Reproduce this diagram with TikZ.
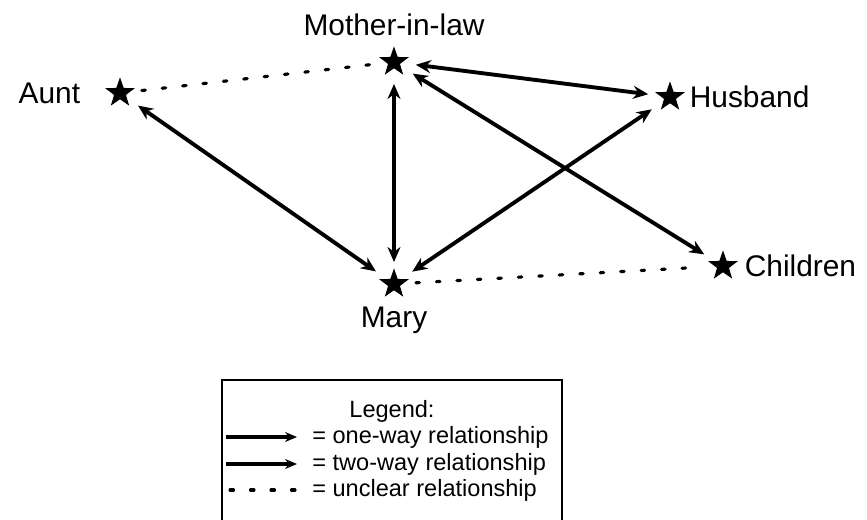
\documentclass[tikz,border=0pt]{standalone}
\usepackage{fontspec}
\setmainfont{Liberation Sans}
\usetikzlibrary{positioning,shapes.geometric,arrows.meta}

\tikzset{
  person/.style={star, star points=5, star point ratio=2.5, fill=black, draw=black,
    line width=0.6pt, minimum size=0.56cm, inner sep=0pt},
  lbl/.style={font=\fontsize{17}{20}\selectfont, inner sep=0pt},
  legtxt/.style={font=\fontsize{13.4}{16}\selectfont, inner sep=0pt},
  twoway/.style={line width=2.2pt,
    {Stealth[length=0.3cm,width=0.26cm]}-{Stealth[length=0.3cm,width=0.26cm]},
    shorten <=0.44cm, shorten >=0.44cm},
  unclear/.style={line width=1.8pt, line cap=round, dash pattern=on 0.07cm off 0.34cm,
    shorten <=0.44cm, shorten >=0.44cm},
  sample/.style={line width=1.8pt, -{Stealth[length=0.24cm,width=0.2cm]}},
}

\begin{document}
\begin{tikzpicture}
    \useasboundingbox (0,0) rectangle (17.34,10.38);

    % Family members
    \node[person] (aunt) at (2.40,8.52) {};
    \node[person] (inlaw) at (7.88,9.14) {};
    \node[person] (husband) at (13.40,8.44) {};
    \node[person] (children) at (14.46,5.06) {};
    \node[person] (mary) at (7.88,4.70) {};

    % Names
    \node[lbl, left=0.62cm of aunt] (auntlbl) {Aunt};
    \node[lbl, above=0.2cm of inlaw] (inlawlbl) {Mother-in-law};
    \node[lbl, right=0.22cm of husband] (husbandlbl) {Husband};
    \node[lbl, right=0.26cm of children] (childrenlbl) {Children};
    \node[lbl, below=0.32cm of mary] (marylbl) {Mary};

    % Relationships
    \draw[unclear] (aunt.center) -- (inlaw.center);
    \draw[unclear] (mary.center) -- (children.center);
    \draw[twoway] (aunt.center) -- (mary.center);
    \draw[twoway] (inlaw.center) -- (mary.center);
    \draw[twoway] (inlaw.center) -- (husband.center);
    \draw[twoway] (inlaw.center) -- (children.center);
    \draw[twoway] (husband.center) -- (mary.center);

    % Legend
    \draw[line width=1.4pt] (4.44,-0.5) -- (4.44,2.78) -- (11.24,2.78) -- (11.24,-0.5);
    \node[legtxt] (legtitle) at (7.84,2.16) {Legend:};
    \coordinate (oneA) at (4.52,1.64);
    \coordinate (oneB) at (5.94,1.64);
    \coordinate (twoA) at (4.52,1.10);
    \coordinate (twoB) at (5.94,1.10);
    \coordinate (uncA) at (4.60,0.58);
    \coordinate (uncB) at (5.94,0.58);
    \draw[sample] (oneA) -- (oneB);
    \draw[sample] (twoA) -- (twoB);
    \draw[line width=1.8pt, line cap=round, dash pattern=on 0.07cm off 0.34cm] (uncA) -- (uncB);
    \node[legtxt, right=0.3cm of oneB] (onetxt) {= one-way relationship};
    \node[legtxt, right=0.3cm of twoB] (twotxt) {= two-way relationship};
    \node[legtxt, right=0.3cm of uncB] (unctxt) {= unclear relationship};
\end{tikzpicture}
\end{document}
